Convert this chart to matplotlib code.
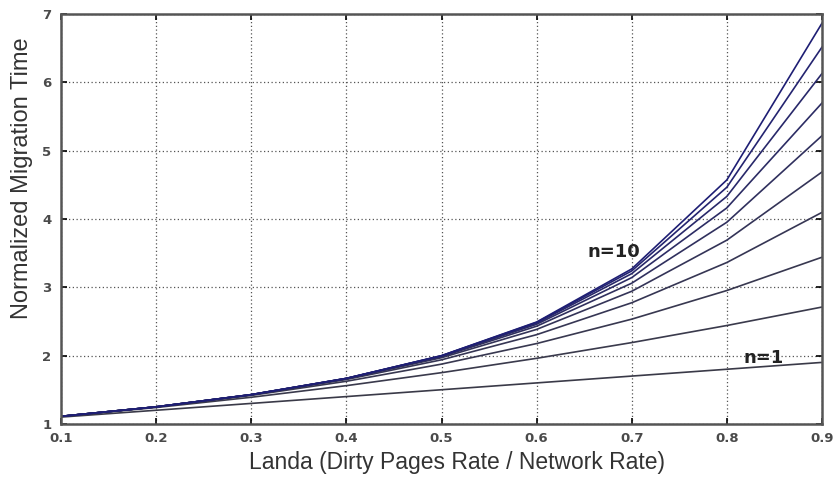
import matplotlib
matplotlib.use('Agg')
import matplotlib.pyplot as plt

plt.rcParams['font.family'] = ['Liberation Sans', 'DejaVu Sans']

# Landa values (x axis)
landa = [0.1, 0.2, 0.3, 0.4, 0.5, 0.6, 0.7, 0.8, 0.9]

# Normalized migration time, one curve per n
n1 = [1.10, 1.20, 1.30, 1.40, 1.50, 1.60, 1.70, 1.80, 1.90]
n2 = [1.11, 1.24, 1.39, 1.56, 1.75, 1.96, 2.19, 2.44, 2.71]
n3 = [1.111, 1.248, 1.417, 1.624, 1.875, 2.176, 2.533, 2.952, 3.439]
n4 = [1.111, 1.250, 1.425, 1.650, 1.938, 2.306, 2.773, 3.362, 4.095]
n5 = [1.111, 1.250, 1.427, 1.660, 1.969, 2.383, 2.941, 3.689, 4.686]
n6 = [1.111, 1.250, 1.428, 1.664, 1.984, 2.430, 3.059, 3.951, 5.217]
n7 = [1.111, 1.250, 1.428, 1.666, 1.992, 2.458, 3.141, 4.161, 5.695]
n8 = [1.111, 1.250, 1.428, 1.666, 1.996, 2.475, 3.199, 4.329, 6.126]
n9 = [1.111, 1.250, 1.429, 1.666, 1.998, 2.485, 3.239, 4.463, 6.513]
n10 = [1.111, 1.250, 1.429, 1.667, 1.999, 2.491, 3.268, 4.570, 6.862]
curves = [n1, n2, n3, n4, n5, n6, n7, n8, n9, n10]
colors = ['#3a3a48', '#3a3a4c', '#383850', '#363654', '#343458',
          '#30305e', '#2c2c64', '#28286a', '#242470', '#1e1e74']
xtick_labels = ['0.1', '0.2', '0.3', '0.4', '0.5', '0.6', '0.7', '0.8', '0.9']
yticks = [1, 2, 3, 4, 5, 6, 7]

fig = plt.figure(figsize=(8.37, 4.79), dpi=100)
ax = fig.add_axes([0.073, 0.115, 0.909, 0.856])

for y, c in zip(curves, colors):
    ax.plot(landa, y, color=c, lw=1.2)

ax.text(0.653, 3.52, 'n=10', fontsize=13, fontweight='bold', family='DejaVu Sans',
        color='#222222', va='center', ha='left')
ax.text(0.818, 1.96, 'n=1', fontsize=13, fontweight='bold', family='DejaVu Sans',
        color='#222222', va='center', ha='left')

ax.set_xlim(0.1, 0.9)
ax.set_ylim(1, 7)
ax.set_xticks(landa)
ax.set_xticklabels(xtick_labels)
ax.set_yticks(yticks)
ax.grid(True, linestyle=(0, (1, 2)), color='#555555', lw=0.9)
ax.tick_params(direction='in', top=True, right=True, length=4, width=1.2,
               labelsize=9.5, labelcolor='#4a4a4a')
ax.tick_params(axis='x', pad=6)
ax.tick_params(axis='y', pad=7)
for lab in ax.get_xticklabels() + ax.get_yticklabels():
    lab.set_fontweight('bold')
    lab.set_family('DejaVu Sans')
for sp in ax.spines.values():
    sp.set_linewidth(1.8)
    sp.set_color('#555555')

ax.set_xlabel('Landa (Dirty Pages Rate / Network Rate)', fontsize=16.5, color='#333333')
ax.set_ylabel('Normalized Migration Time', fontsize=17, color='#333333')
ax.xaxis.set_label_coords(0.52, -0.093)
ax.yaxis.set_label_coords(-0.051, 0.60)
ax.xaxis.label.set_va('center')
ax.yaxis.label.set_va('center')

fig.savefig('out.png', dpi=100)
